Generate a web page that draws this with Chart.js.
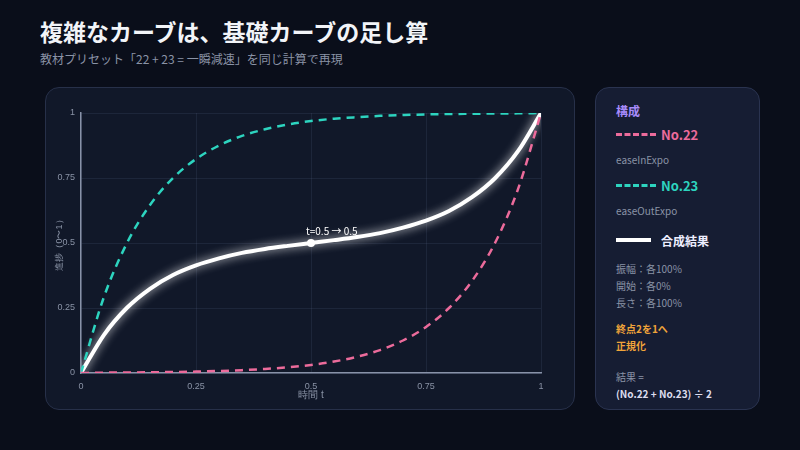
<!DOCTYPE html>
<html><head><meta charset="utf-8">
<script src="https://cdn.jsdelivr.net/npm/chart.js@4"></script>
<style>
body{margin:0;width:800px;height:450px;background:#0a0e1a;font-family:"Noto Sans CJK JP","Noto Sans",sans-serif;position:relative;overflow:hidden;color:#fff}
h1{position:absolute;left:40px;top:14px;margin:0;font-size:23px;font-weight:700;color:#f2f4f8}
.sub{position:absolute;left:40px;top:50px;font-size:12px;color:#8a93a6}
.panel{position:absolute;left:45px;top:87px;width:530px;height:323px;background:#111829;border:1px solid #273049;border-radius:14px;box-sizing:border-box}
.side{position:absolute;left:595px;top:87px;width:165px;height:323px;background:#161d33;border:1px solid #2a3350;border-radius:14px;box-sizing:border-box;padding:0 0 0 20px;font-size:10px;color:#8a93a6}
.side div{position:absolute;left:20px}
canvas{position:absolute;left:0;top:0}
</style></head><body>
<h1>複雑なカーブは、基礎カーブの足し算</h1>
<div class="sub">教材プリセット「22 + 23 = 一瞬減速」を同じ計算で再現</div>
<div class="panel"><canvas id="c" width="530" height="323"></canvas></div>
<div class="side">
 <div style="top:14px;font-size:12px;font-weight:700;color:#a78bfa">構成</div>
 <div style="top:45px;width:40px;border-top:3px dashed #ec6b9b"></div>
 <div style="left:65px;top:37px;font-size:13px;font-weight:700;color:#ec6b9b">No.22</div>
 <div style="top:64px">easeInExpo</div>
 <div style="top:96px;width:40px;border-top:3px dashed #2dd4bf"></div>
 <div style="left:65px;top:88px;font-size:13px;font-weight:700;color:#2dd4bf">No.23</div>
 <div style="top:115px">easeOutExpo</div>
 <div style="top:150px;width:35px;height:4px;background:#fff"></div>
 <div style="left:65px;top:144px;font-size:12px;font-weight:700;color:#eef">合成結果</div>
 <div style="top:173px">振幅：各100%</div>
 <div style="top:190px">開始：各0%</div>
 <div style="top:207px">長さ：各100%</div>
 <div style="top:233px;font-weight:700;color:#f0a43a">終点2を1へ</div>
 <div style="top:250px;font-weight:700;color:#f0a43a">正規化</div>
 <div style="top:281px">結果 =</div>
 <div style="top:298px;font-weight:700;color:#dde">(No.22 + No.23) ÷ 2</div>
</div>
<script>
const tValues = [0,0.05,0.1,0.15,0.2,0.25,0.3,0.35,0.4,0.45,0.5,0.55,0.6,0.65,0.7,0.75,0.8,0.85,0.9,0.95,1];
const inExpo = [0,0.0014,0.002,0.0028,0.0039,0.0055,0.0078,0.011,0.0156,0.022,0.031,0.044,0.0625,0.088,0.125,0.177,0.25,0.354,0.5,0.707,1];
const outExpo = [0,0.293,0.5,0.646,0.75,0.823,0.875,0.912,0.9375,0.956,0.969,0.978,0.984,0.989,0.992,0.9945,0.996,0.997,0.998,0.9986,1];
const combined = [0,0.147,0.251,0.324,0.377,0.414,0.441,0.462,0.477,0.489,0.5,0.511,0.523,0.538,0.559,0.586,0.623,0.676,0.749,0.853,1];
const tickLabels = {0:"0",0.25:"0.25",0.5:"0.5",0.75:"0.75",1:"1"};

const pts = arr => arr.map((v, i) => ({x: tValues[i], y: v}));

const glow = {
  id: "glow",
  beforeDatasetDraw(chart, args) {
    const ctx = chart.ctx;
    ctx.save();
    if (args.index === 2) { ctx.shadowColor = "rgba(255,255,255,0.9)"; ctx.shadowBlur = 10; }
  },
  afterDatasetDraw(chart) { chart.ctx.restore(); },
  afterDatasetsDraw(chart) {
    const ctx = chart.ctx;
    const x = chart.scales.x.getPixelForValue(0.5), y = chart.scales.y.getPixelForValue(0.5);
    ctx.save();
    ctx.fillStyle = "#fff";
    ctx.beginPath(); ctx.arc(x, y, 4, 0, Math.PI * 2); ctx.fill();
    ctx.font = "10px 'Noto Sans CJK JP'";
    ctx.fillText("t=0.5 → 0.5", x - 5, y - 8);
    ctx.restore();
  }
};

const grid = {color: "rgba(120,140,180,0.12)", drawTicks: false};
new Chart(document.getElementById("c"), {
  type: "line",
  data: {datasets: [
    {data: pts(inExpo), borderColor: "#ec6b9b", borderWidth: 2.5, borderDash: [8, 6], pointRadius: 0, tension: 0.4, cubicInterpolationMode: "monotone"},
    {data: pts(outExpo), borderColor: "#2dd4bf", borderWidth: 2.5, borderDash: [8, 6], pointRadius: 0, tension: 0.4, cubicInterpolationMode: "monotone"},
    {data: pts(combined), borderColor: "#ffffff", borderWidth: 4, pointRadius: 0, tension: 0.4, cubicInterpolationMode: "monotone"}
  ]},
  options: {
    responsive: false, animation: false,
    layout: {padding: {left: 8, top: 25, right: 35, bottom: 8}},
    plugins: {legend: {display: false}, tooltip: {enabled: false}},
    scales: {
      x: {type: "linear", min: 0, max: 1, grid, border: {color: "#8892a8", width: 1.5},
        ticks: {stepSize: 0.25, padding: 8, color: "#8a93a6", font: {size: 9}, callback: v => tickLabels[v]},
        title: {display: true, text: "時間 t", color: "#8a93a6", font: {size: 10}, padding: 2},
        afterFit: s => { s.height = 30; }},
      y: {min: 0, max: 1, grid, border: {color: "#8892a8", width: 1.5},
        ticks: {stepSize: 0.25, padding: 6, color: "#8a93a6", font: {size: 9}, callback: v => tickLabels[v]},
        title: {display: true, text: "進捗（0〜1）", color: "#8a93a6", font: {size: 9}, padding: 0},
        afterFit: s => { s.width = 27; }}
    }
  },
  plugins: [glow]
});
</script>
</body></html>
